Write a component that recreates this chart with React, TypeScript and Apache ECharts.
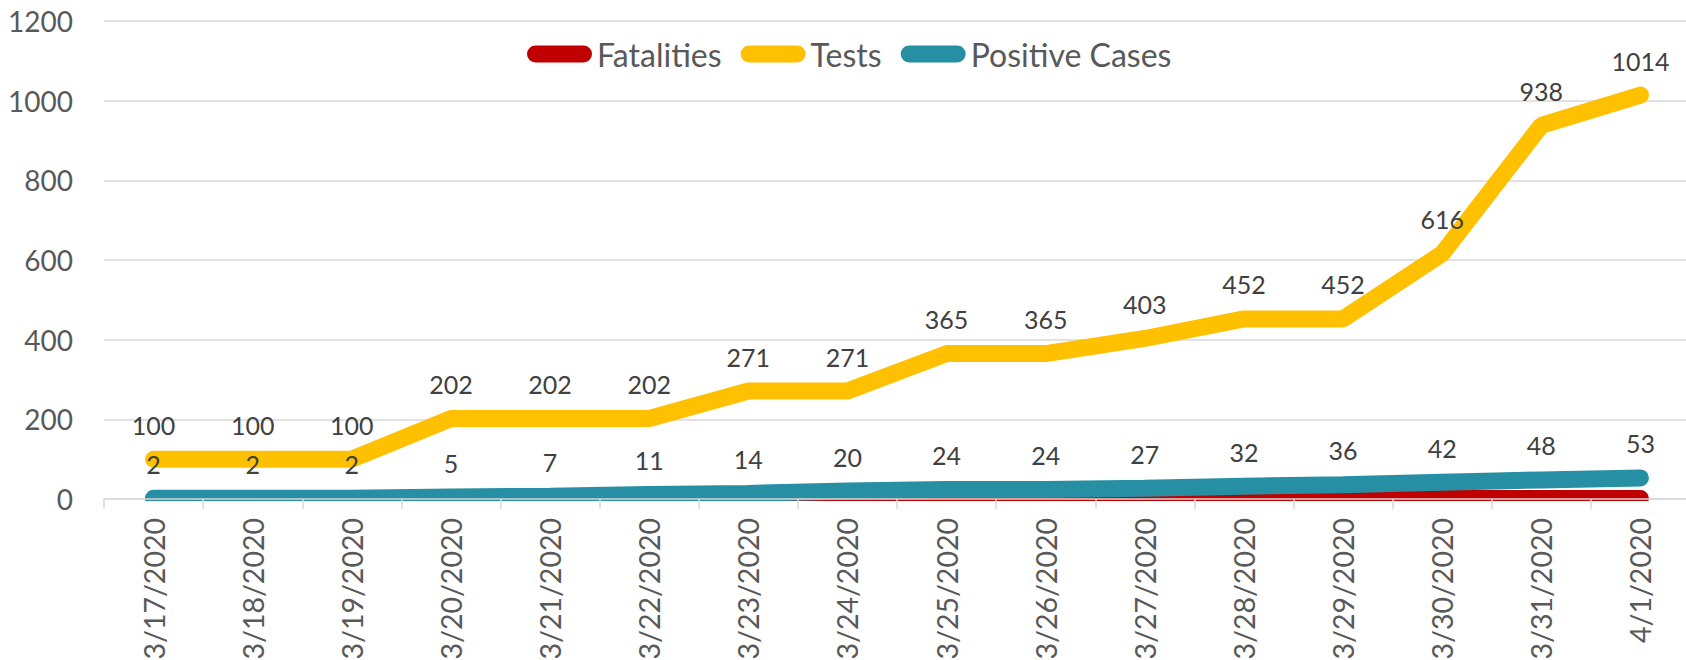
import React, { useEffect, useRef } from "react";
import * as echarts from "echarts";

const categories = [
  "3/17/2020", "3/18/2020", "3/19/2020", "3/20/2020", "3/21/2020", "3/22/2020",
  "3/23/2020", "3/24/2020", "3/25/2020", "3/26/2020", "3/27/2020", "3/28/2020",
  "3/29/2020", "3/30/2020", "3/31/2020", "4/1/2020",
];
const fatalities = [0, 0, 0, 0, 0, 0, 0, 1, 1, 1, 1, 1, 1, 1, 1, 1];
const tests = [100, 100, 100, 202, 202, 202, 271, 271, 365, 365, 403, 452, 452, 616, 938, 1014];
const positiveCases = [2, 2, 2, 5, 7, 11, 14, 20, 24, 24, 27, 32, 36, 42, 48, 53];
const yTicks = { min: 0, max: 1200, interval: 200 };

const FONT = "Lato, 'Open Sans', sans-serif";
const TEXT = "#595959";
const GRID = "#d9d9d9";
const PILL = "path://M8.5,0 H56.5 A8.5,8.5 0 0 1 56.5,17 H8.5 A8.5,8.5 0 0 1 8.5,0 Z";

export default function App() {
  const ref = useRef<HTMLDivElement>(null);
  useEffect(() => {
    if (!ref.current) return;
    const chart = echarts.init(ref.current, undefined, { renderer: "svg" });
    const lineStyle = (color: string) => ({ color, width: 17, cap: "round" as const });
    const label = {
      show: true,
      position: "top" as const,
      distance: 22,
      fontSize: 25,
      fontFamily: FONT,
      color: "#404040",
    };
    const common = {
      type: "line" as const,
      symbol: "circle",
      symbolSize: 0,
      showSymbol: true,
      emphasis: { disabled: true },
    };
    chart.setOption({
      animation: false,
      textStyle: { fontFamily: FONT },
      legend: {
        left: 527,
        top: 38,
        padding: 0,
        itemGap: 19,
        itemWidth: 65,
        itemHeight: 17,
        textStyle: { fontSize: 32, color: TEXT, fontFamily: FONT },
        data: [
          { name: "Fatalities", icon: PILL },
          { name: "Tests", icon: PILL },
          { name: "Positive Cases", icon: PILL },
        ],
      },
      grid: {
        left: 104,
        top: 21,
        width: 1586,
        height: 478,
        containLabel: false,
        outerBoundsMode: "none",
      },
      graphic: [
        {
          type: "rect",
          z: 5,
          shape: { x: 105, y: 501, width: 1581, height: 12 },
          style: { fill: "#ffffff" },
        },
      ],
      xAxis: {
        type: "category",
        data: categories,
        boundaryGap: true,
        z: 10,
        axisLine: { lineStyle: { color: GRID, width: 1.5 } },
        axisTick: { show: true, length: 10, lineStyle: { color: GRID, width: 1.5 } },
        axisLabel: {
          rotate: 90,
          interval: 0,
          margin: 19,
          fontSize: 28.5,
          color: TEXT,
          fontFamily: FONT,
        },
      },
      yAxis: {
        type: "value",
        min: yTicks.min,
        max: yTicks.max,
        interval: yTicks.interval,
        axisLine: { show: false },
        axisTick: { show: false },
        axisLabel: {
          margin: 31,
          fontSize: 28,
          color: TEXT,
          fontFamily: FONT,
          formatter: (v: number) => String(v),
        },
        splitLine: { lineStyle: { color: GRID, width: 1.5 } },
      },
      series: [
        {
          ...common,
          name: "Fatalities",
          data: fatalities,
          itemStyle: { color: "#c00000" },
          lineStyle: lineStyle("#c00000"),
        },
        {
          ...common,
          name: "Tests",
          data: tests,
          itemStyle: { color: "#ffc000" },
          lineStyle: lineStyle("#ffc000"),
          label,
        },
        {
          ...common,
          name: "Positive Cases",
          data: positiveCases,
          itemStyle: { color: "#268fa3" },
          lineStyle: lineStyle("#268fa3"),
          label,
        },
      ],
    });
    return () => chart.dispose();
  }, []);
  return (
    <div
      ref={ref}
      style={{ position: "absolute", left: 0, top: 0, width: 1686, height: 660 }}
    />
  );
}
